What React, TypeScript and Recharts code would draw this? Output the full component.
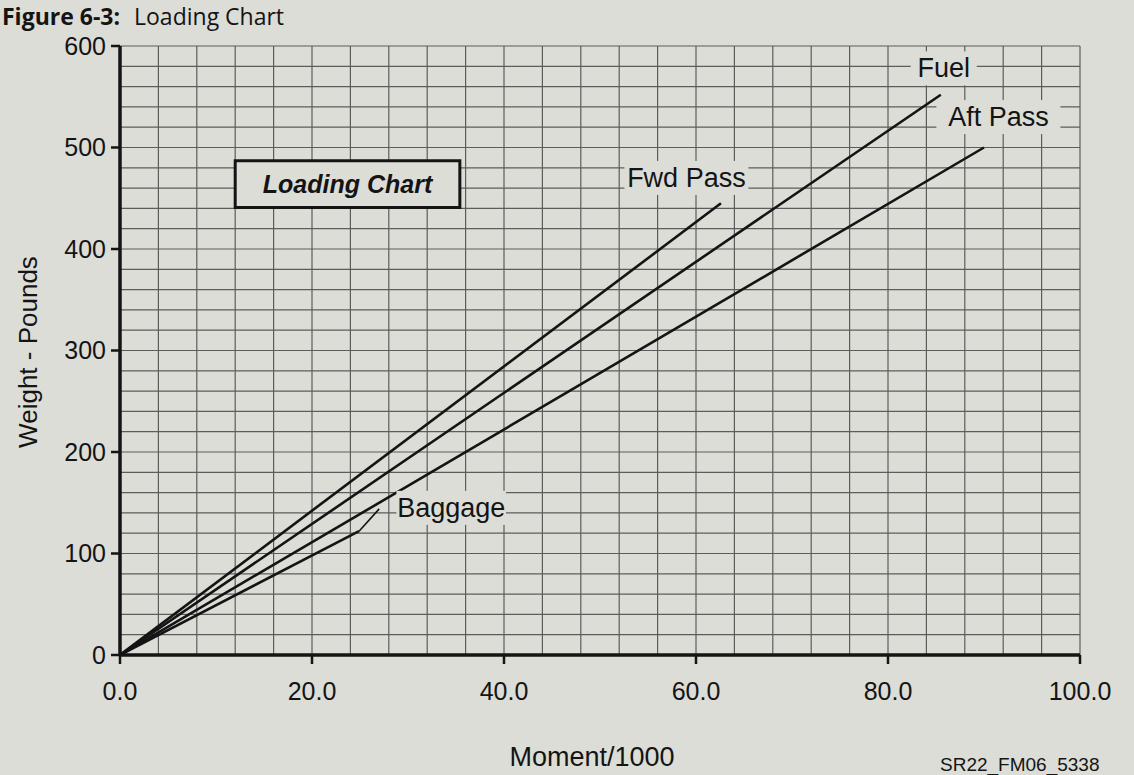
import React from "react";
import { LineChart, Line, XAxis, YAxis, CartesianGrid, ReferenceArea, ReferenceDot } from "recharts";

// weight (lb) vs moment/1000
const fwdPass = [
  { m: 0, w: 0 },
  { m: 62.6, w: 445 },
];
const fuel = [
  { m: 0, w: 0 },
  { m: 85.5, w: 552 },
];
const aftPass = [
  { m: 0, w: 0 },
  { m: 90.0, w: 500 },
];
const baggage = [
  { m: 0, w: 0 },
  { m: 24.9, w: 122 },
];
const baggageLeader = [
  { m: 24.9, w: 122 },
  { m: 27.0, w: 144 },
];

const xTicks = [0, 20, 40, 60, 80, 100];
const yTicks = [0, 100, 200, 300, 400, 500, 600];
const xGrid = [0, 4, 8, 12, 16, 20, 24, 28, 32, 36, 40, 44, 48, 52, 56, 60, 64, 68, 72, 76, 80, 84, 88, 92, 96, 100];
const yGrid = [
  0, 20, 40, 60, 80, 100, 120, 140, 160, 180, 200, 220, 240, 260, 280, 300, 320, 340, 360, 380, 400, 420, 440, 460,
  480, 500, 520, 540, 560, 580, 600,
];

const seriesNames = ["Fuel", "Aft Pass", "Fwd Pass", "Baggage"];
const labelAt = [
  { m: 85.8, w: 578 },
  { m: 91.5, w: 530 },
  { m: 59.0, w: 470 },
  { m: 34.5, w: 145 },
];

const BG = "#dcddd7";
const INK = "#141414";
const FONT = '"Liberation Sans", Arial, sans-serif';

function Tag(props: any) {
  const { cx, cy, text } = props;
  const w = text.length * 14.5 + 8;
  return (
    <g>
      <rect x={cx - w / 2} y={cy - 17} width={w} height={34} fill={BG} />
      <text x={cx} y={cy} textAnchor="middle" dominantBaseline="central" fontSize={27} fontFamily={FONT} fill={INK}>
        {text}
      </text>
    </g>
  );
}

export default function App() {
  const lineProps = {
    type: "linear" as const,
    dataKey: "w",
    stroke: INK,
    strokeWidth: 2.6,
    dot: false,
    activeDot: false,
    isAnimationActive: false,
  };

  return (
    <div
      style={{
        position: "absolute",
        left: 0,
        top: 0,
        width: 1134,
        height: 775,
        background: BG,
        overflow: "hidden",
        fontFamily: FONT,
        color: INK,
      }}
    >
      <div
        style={{
          position: "absolute",
          left: 2,
          top: 0,
          fontFamily: '"Open Sans", "Noto Sans", sans-serif',
          fontSize: 23,
          lineHeight: "32px",
          whiteSpace: "nowrap",
        }}
      >
        <b>Figure 6-3:</b>
        <span style={{ marginLeft: 14 }}>Loading Chart</span>
      </div>

      <LineChart width={1134} height={775} margin={{ top: 46, right: 54, bottom: 60, left: 60 }}>
        <CartesianGrid verticalValues={xGrid} horizontalValues={yGrid} stroke="#5c5c5c" strokeWidth={1.2} />
        <XAxis
          type="number"
          dataKey="m"
          domain={[0, 100]}
          ticks={xTicks}
          interval={0}
          allowDataOverflow
          tickFormatter={(v: number) => v.toFixed(1)}
          height={60}
          axisLine={{ stroke: INK, strokeWidth: 3.5 }}
          tickLine={{ stroke: INK, strokeWidth: 2.5 }}
          tickSize={9}
          tickMargin={18}
          tick={{ fill: INK, fontSize: 25, fontFamily: FONT }}
        />
        <YAxis
          type="number"
          dataKey="w"
          domain={[0, 600]}
          ticks={yTicks}
          interval={0}
          allowDataOverflow
          width={60}
          axisLine={{ stroke: INK, strokeWidth: 3.5 }}
          tickLine={{ stroke: INK, strokeWidth: 2.5 }}
          tickSize={9}
          tickMargin={5}
          tick={{ fill: INK, fontSize: 25, fontFamily: FONT }}
        />
        <ReferenceArea
          x1={12.0}
          x2={35.4}
          y1={441}
          y2={487}
          fill={BG}
          fillOpacity={1}
          stroke={INK}
          strokeWidth={3}
          label={{
            content: (p: any) => {
              const vb = p.viewBox || {};
              return (
                <text
                  x={vb.x + vb.width / 2}
                  y={vb.y + vb.height / 2}
                  textAnchor="middle"
                  dominantBaseline="central"
                  fontSize={25}
                  fontWeight="bold"
                  fontStyle="italic"
                  fontFamily={FONT}
                  fill={INK}
                >
                  Loading Chart
                </text>
              );
            },
          }}
        />
        <Line {...lineProps} data={fwdPass} name="Fwd Pass" />
        <Line {...lineProps} data={fuel} name="Fuel" />
        <Line {...lineProps} data={aftPass} name="Aft Pass" />
        <Line {...lineProps} data={baggage} name="Baggage" />
        <Line {...lineProps} data={baggageLeader} name="Baggage leader" strokeWidth={1.6} />
        {seriesNames.map((name, i) => (
          <ReferenceDot
            key={name}
            x={labelAt[i].m}
            y={labelAt[i].w}
            r={0}
            shape={(p: any) => <Tag cx={p.cx} cy={p.cy} text={name} />}
          />
        ))}
      </LineChart>

      <div
        style={{
          position: "absolute",
          left: 28,
          top: 352,
          transform: "translate(-50%, -50%) rotate(-90deg)",
          fontSize: 26,
          whiteSpace: "nowrap",
        }}
      >
        Weight - Pounds
      </div>
      <div
        style={{
          position: "absolute",
          left: 592,
          top: 757,
          transform: "translate(-50%, -50%)",
          fontSize: 27,
          whiteSpace: "nowrap",
        }}
      >
        Moment/1000
      </div>
      <div
        style={{
          position: "absolute",
          left: 940,
          top: 765,
          transform: "translateY(-50%)",
          fontSize: 19,
          whiteSpace: "nowrap",
        }}
      >
        SR22_FM06_5338
      </div>
    </div>
  );
}
